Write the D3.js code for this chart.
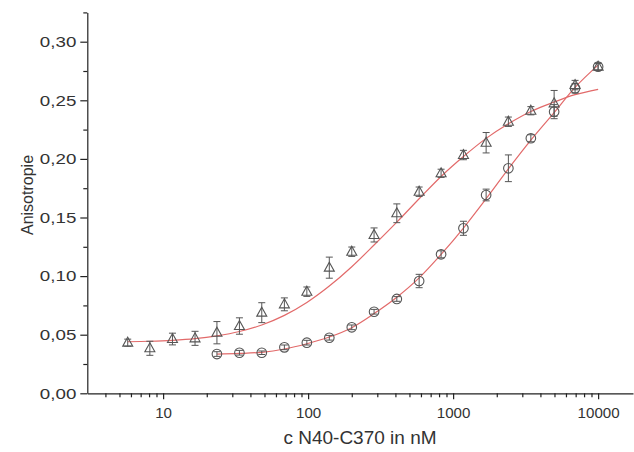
<!DOCTYPE html>
<html><head><meta charset="utf-8">
<script src="https://cdn.jsdelivr.net/npm/d3@7"></script>
<style>
body{margin:0;background:#fff}
svg{display:block}
text{font-family:"Liberation Sans",Arial,sans-serif;fill:#333}
</style>
</head><body>
<svg id="c" width="634" height="452"></svg>
<script>
// ---- data ----
const triConc = [5.7, 8.1, 11.6, 16.6, 23.5, 33.6, 47.9, 68.6, 98, 140, 200, 285, 409, 583, 826, 1178, 1689, 2405, 3436, 4973, 6934, 10000];
const triVal  = [0.0432, 0.0384, 0.0463, 0.0469, 0.0517, 0.0574, 0.0688, 0.0759, 0.0867, 0.1072, 0.1208, 0.1351, 0.1536, 0.1720, 0.1877, 0.2033, 0.2138, 0.2317, 0.2411, 0.2474, 0.2630, 0.2787];
const triErr  = [0.003, 0.006, 0.005, 0.006, 0.0095, 0.007, 0.0085, 0.0055, 0.004, 0.009, 0.004, 0.006, 0.008, 0.004, 0.0035, 0.004, 0.0087, 0.004, 0.0035, 0.011, 0.004, 0.003];

const circConc = [23.5, 33.6, 47.9, 68.6, 98, 140, 200, 285, 409, 583, 826, 1178, 1689, 2405, 3436, 4973, 6934, 10000];
const circVal  = [0.0335, 0.0346, 0.0346, 0.0392, 0.0432, 0.0474, 0.0563, 0.0696, 0.0805, 0.0958, 0.1186, 0.1408, 0.1692, 0.1920, 0.2176, 0.2403, 0.2602, 0.2787];
const circErr  = [0.002, 0.002, 0.0015, 0.002, 0.002, 0.002, 0.002, 0.002, 0.002, 0.0057, 0.003, 0.006, 0.005, 0.0114, 0.003, 0.006, 0.004, 0.003];

const fitTriConc = [5.7, 8.1, 11.6, 16.6, 23.5, 33.6, 47.9, 68.6, 98, 140, 200, 285, 409, 583, 826, 1178, 1689, 2405, 3436, 4973, 6934, 10000];
const fitTriVal  = [0.0440, 0.0444, 0.0452, 0.0466, 0.0490, 0.0527, 0.0583, 0.0665, 0.0775, 0.0915, 0.1080, 0.1265, 0.1460, 0.1660, 0.1850, 0.2020, 0.2175, 0.2300, 0.2405, 0.2485, 0.2548, 0.2594];
const fitCircConc = [23.5, 33.6, 47.9, 68.6, 98, 140, 200, 285, 409, 583, 826, 1178, 1689, 2405, 3436, 4973, 6934, 10000];
const fitCircVal  = [0.0335, 0.0340, 0.0350, 0.0378, 0.0423, 0.0480, 0.0560, 0.0680, 0.0820, 0.0985, 0.1185, 0.1410, 0.1660, 0.1915, 0.2160, 0.2395, 0.2610, 0.2800];

const xMajor = [10, 100, 1000, 10000];
const xMinor = [4,5,6,7,8,9,20,30,40,50,60,70,80,90,200,300,400,500,600,700,800,900,2000,3000,4000,5000,6000,7000,8000,9000];
const yMajor = [0, 0.05, 0.10, 0.15, 0.20, 0.25, 0.30];
const yMinor = [0.025, 0.075, 0.125, 0.175, 0.225, 0.275, 0.325];

const xLabel = "c N40-C370 in nM";
const yLabel = "Anisotropie";

// ---- drawing ----
const svg = d3.select("#c");
const x = d3.scaleLog().domain([3, 17400]).range([87.3, 633]);
const y = d3.scaleLinear().domain([0, 0.325]).range([393.3, 12.4]);

const axisColor = "#222";
const fmtY = d => d.toFixed(2).replace(".", ",");

// x axis
const gx = svg.append("g").attr("transform", `translate(0,${y(0)})`);
gx.call(d3.axisBottom(x).tickValues(xMajor).tickFormat(d3.format("d")).tickSize(6).tickSizeOuter(0).tickPadding(8));
const gxm = svg.append("g").attr("transform", `translate(0,${y(0)})`);
gxm.call(d3.axisBottom(x).tickValues(xMinor).tickFormat("").tickSize(4).tickSizeOuter(0));
gxm.select(".domain").remove();

// y axis
const gy = svg.append("g").attr("transform", `translate(${x(3)},0)`);
gy.call(d3.axisLeft(y).tickValues(yMajor).tickFormat(fmtY).tickSize(7).tickSizeOuter(0).tickPadding(4));
const gym = svg.append("g").attr("transform", `translate(${x(3)},0)`);
gym.call(d3.axisLeft(y).tickValues(yMinor).tickFormat("").tickSize(4).tickSizeOuter(0));
gym.select(".domain").remove();

svg.selectAll(".domain, .tick line").attr("stroke", axisColor).attr("stroke-width", 1.2);
svg.selectAll(".tick text").attr("fill", "#333").attr("font-family", null);
gx.selectAll(".tick text").style("font-size", "14px").attr("dy", null).attr("y", 25)
  .attr("transform", "scale(1.08,1)");
gy.selectAll(".tick text").style("font-size", "15px").attr("x", -11 / 1.25)
  .attr("transform", "scale(1.25,1)");

// axis titles
svg.append("text").attr("x", 360).attr("y", 444).attr("text-anchor", "middle")
  .style("font-size", "19px").text(xLabel);
svg.append("text").attr("transform", "translate(27,195) rotate(-90)")
  .attr("text-anchor", "middle").attr("dominant-baseline", "central")
  .style("font-size", "16px").text(yLabel);

// fit curves
const line = d3.line().curve(d3.curveMonotoneX);
const fitColor = "#e26a6a";
svg.append("path").attr("fill", "none").attr("stroke", fitColor).attr("stroke-width", 1.2)
  .attr("d", line(fitTriConc.map((c, i) => [x(c), y(fitTriVal[i])])));
svg.append("path").attr("fill", "none").attr("stroke", fitColor).attr("stroke-width", 1.2)
  .attr("d", line(fitCircConc.map((c, i) => [x(c), y(fitCircVal[i])])));

// error bars
const markColor = "#555";
function errorBars(conc, val, err) {
  const g = svg.append("g").attr("stroke", markColor).attr("stroke-width", 1).attr("fill", "none");
  conc.forEach((c, i) => {
    const cx = x(c), y1 = y(val[i] + err[i]), y2 = y(val[i] - err[i]);
    g.append("path").attr("d", `M${cx},${y1}V${y2}M${cx-3.5},${y1}H${cx+3.5}M${cx-3.5},${y2}H${cx+3.5}`);
  });
}
errorBars(triConc, triVal, triErr);
errorBars(circConc, circVal, circErr);

// markers
svg.append("g").selectAll("path").data(triConc).join("path")
  .attr("transform", (c, i) => `translate(${x(c)},${y(triVal[i])})`)
  .attr("d", "M0,-5.5L5,3.5L-5,3.5Z")
  .attr("fill", "none").attr("stroke", markColor).attr("stroke-width", 1.1);
svg.append("g").selectAll("circle").data(circConc).join("circle")
  .attr("cx", c => x(c)).attr("cy", (c, i) => y(circVal[i])).attr("r", 4.8)
  .attr("fill", "none").attr("stroke", markColor).attr("stroke-width", 1.1);
</script>
</body></html>
